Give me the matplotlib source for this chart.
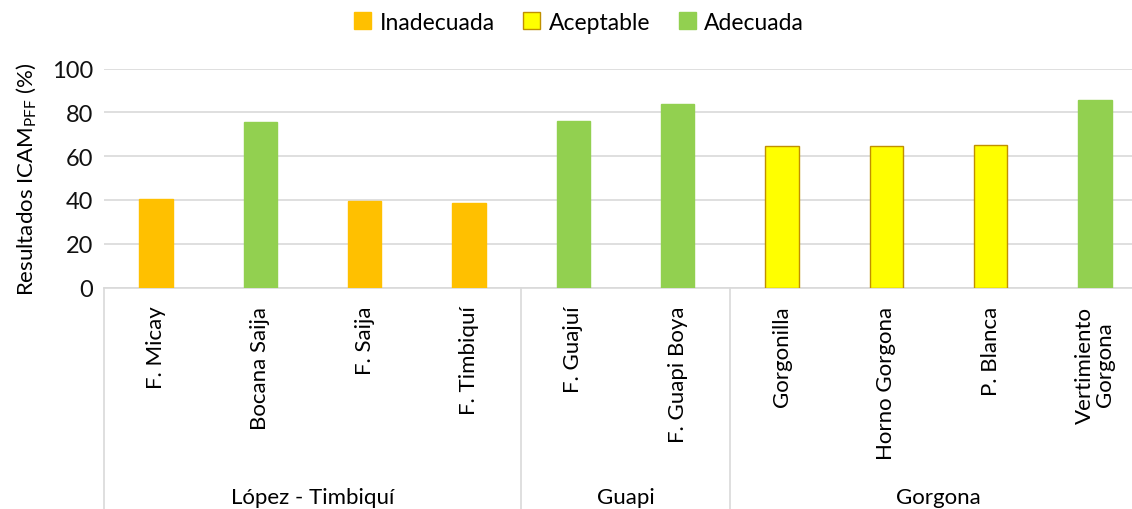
import matplotlib
matplotlib.use('Agg')
import matplotlib.pyplot as plt
from matplotlib.patches import Patch

plt.rcParams['font.family'] = ['Lato', 'DejaVu Sans']

# datos
sitios = ['F. Micay', 'Bocana Saija', 'F. Saija', 'F. Timbiquí', 'F. Guajuí',
          'F. Guapi Boya', 'Gorgonilla', 'Horno Gorgona', 'P. Blanca',
          'Vertimiento\nGorgona']
valores = [40.3, 75.6, 39.7, 38.5, 76.0, 84.0, 64.5, 64.5, 65.2, 85.8]
calidad = ['Inadecuada', 'Adecuada', 'Inadecuada', 'Inadecuada', 'Adecuada',
           'Adecuada', 'Aceptable', 'Aceptable', 'Aceptable', 'Adecuada']
grupos = ['López - Timbiquí', 'Guapi', 'Gorgona']
grupo_n = [4, 2, 4]

colores = {'Inadecuada': '#FFC000', 'Aceptable': '#FFFF00', 'Adecuada': '#92D050'}
bordes = {'Inadecuada': '#FFC000', 'Aceptable': '#C09000', 'Adecuada': '#92D050'}

W, H = 1132, 510
fig = plt.figure(figsize=(W / 100, H / 100), dpi=100)
# el area de grafico se sale un poco por la derecha, como en el original
ax = fig.add_axes([104 / W, 1 - 288.5 / H, 1043 / W, 219 / H])

x = range(len(sitios))
ax.bar(x, valores, width=0.32,
       color=[colores[c] for c in calidad],
       edgecolor=[bordes[c] for c in calidad], linewidth=1.0, zorder=3)

ax.set_xlim(-0.5, len(sitios) - 0.5)
ax.set_ylim(0, 100)
ax.set_yticks(range(0, 101, 20))
ax.grid(axis='y', color='#D9D9D9', linewidth=1.2, zorder=0)
for s in ['top', 'right', 'left']:
    ax.spines[s].set_visible(False)
ax.spines['bottom'].set_color('#D9D9D9')
ax.spines['bottom'].set_linewidth(1.2)

ax.set_xticks(list(x))
ax.set_xticklabels(sitios, rotation=90, va='top', ha='center', fontsize=16,
                   multialignment='center', linespacing=1.0)
ax.tick_params(axis='x', length=0, pad=13)
ax.tick_params(axis='y', length=0, labelsize=17, pad=8, labelcolor='#111111')

ax.set_ylabel('Resultados ICAM$_{\\mathregular{PFF}}$ (%)', fontsize=16, labelpad=9)

# separadores de grupos y etiquetas
trans = ax.get_xaxis_transform()
inicio = -0.5
for nombre, n in zip(grupos, grupo_n):
    ax.plot([inicio, inicio], [0, -1.02], transform=trans, color='#D9D9D9',
            linewidth=1.2, clip_on=False)
    ax.text(inicio + n / 2, -0.955, nombre, transform=trans, ha='center',
            va='center', fontsize=16)
    inicio += n

handles = [Patch(facecolor=colores[k], edgecolor=bordes[k] if k == 'Aceptable' else colores[k])
           for k in ['Inadecuada', 'Aceptable', 'Adecuada']]
fig.legend(handles, ['Inadecuada', 'Aceptable', 'Adecuada'], loc='center',
           bbox_to_anchor=(579 / W, 1 - 23 / H), ncol=3, frameon=False,
           fontsize=16.5, handlelength=0.75, handleheight=0.75, handletextpad=0.35,
           columnspacing=1.25)

fig.savefig('out.png', dpi=100)
